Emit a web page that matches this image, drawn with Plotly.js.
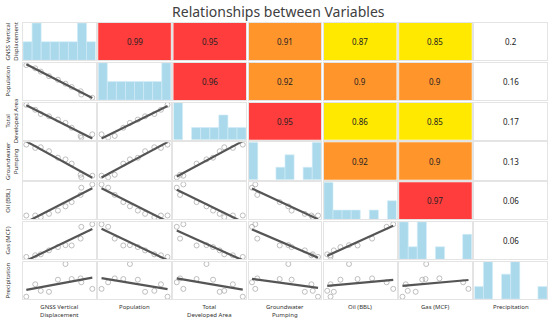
<!DOCTYPE html>
<html>
<head>
<meta charset="utf-8">
<script src="https://cdn.plot.ly/plotly-3.0.1.min.js"></script>
<style>html,body{margin:0;padding:0;background:#fff;}#chart{width:550px;height:320px;}</style>
</head>
<body>
<div id="chart"></div>
<script>
const varLabels = ['GNSS Vertical<br>Displacement', 'Population', 'Total<br>Developed Area',
                   'Groundwater<br>Pumping', 'Oil (BBL)', 'Gas (MCF)', 'Precipitation'];
const gnss        = [0.02, 0.15, 0.23, 0.35, 0.48, 0.59, 0.68, 0.81, 0.82, 0.98];
const population  = [1.00, 0.90, 0.80, 0.66, 0.55, 0.43, 0.33, 0.20, 0.10, 0.00];
const developed   = [1.00, 0.85, 0.72, 0.65, 0.55, 0.45, 0.30, 0.05, 0.00, 0.10];
const groundwater = [1.00, 0.90, 0.92, 0.80, 0.60, 0.55, 0.42, 0.08, 0.00, 0.05];
const oil         = [0.05, 0.05, 0.00, 0.10, 0.20, 0.33, 0.46, 0.68, 0.90, 1.00];
const gas         = [0.00, 0.05, 0.08, 0.20, 0.30, 0.36, 0.35, 0.56, 0.92, 1.00];
const precip      = [0.00, 0.38, 0.18, 0.15, 0.52, 1.00, 0.54, 0.56, 0.44, 0.24];
// displayed correlation coefficients (upper triangle, row by row)
const corrRow1 = [0.99, 0.95, 0.91, 0.87, 0.85, 0.2];
const corrRow2 = [0.96, 0.92, 0.9, 0.9, 0.16];
const corrRow3 = [0.95, 0.86, 0.85, 0.17];
const corrRow4 = [0.92, 0.9, 0.13];
const corrRow5 = [0.97, 0.06];
const corrRow6 = [0.06];

const series = [gnss, population, developed, groundwater, oil, gas, precip];
const corrRows = [corrRow1, corrRow2, corrRow3, corrRow4, corrRow5, corrRow6];
const n = series.length;

const RED = '#ff3d3d', ORANGE = '#ff952b', YELLOW = '#ffe900';
function corrColor(r) {
  if (r >= 0.95) return RED;
  if (r >= 0.88) return ORANGE;
  if (r >= 0.85) return YELLOW;
  return '#ffffff';
}

const gapX = 0.005, gapY = 0.009;
const cellW = (1 - (n - 1) * gapX) / n;
const cellH = (1 - (n - 1) * gapY) / n;
const ax = k => (k === 1 ? '' : String(k));

const traces = [];
const layout = {
  width: 550, height: 320,
  margin: {l: 23, r: 3, t: 23, b: 21},
  paper_bgcolor: '#fff', plot_bgcolor: '#fff',
  showlegend: false,
  font: {family: 'Noto Sans, Open Sans, sans-serif', color: '#333'},
  title: {text: 'Relationships between Variables', xref: 'container', x: 0.506, xanchor: 'center',
          yref: 'container', y: 0.962, yanchor: 'middle',
          font: {size: 14, color: '#404040', family: 'Noto Sans, Open Sans, sans-serif'}},
  shapes: [], annotations: []
};

const mn = a => Math.min.apply(null, a), mx = a => Math.max.apply(null, a);

for (let i = 0; i < n; i++) {
  for (let j = 0; j < n; j++) {
    const k = i * n + j + 1;
    const x0 = j * (cellW + gapX);
    const yTop = 1 - i * (cellH + gapY);
    const xa = {domain: [x0, x0 + cellW], anchor: 'y' + ax(k), showticklabels: false, ticks: '',
                showgrid: false, zeroline: false, showline: true, mirror: true,
                linecolor: '#e4e4e4', linewidth: 1, fixedrange: true};
    const ya = {domain: [yTop - cellH, yTop], anchor: 'x' + ax(k), showticklabels: false, ticks: '',
                showgrid: false, zeroline: false, showline: true, mirror: true,
                linecolor: '#e4e4e4', linewidth: 1, fixedrange: true};
    const xs = series[j], ys = series[i];
    if (i === j) {
      const lo = mn(xs), hi = mx(xs);
      const size = (hi - lo) / 8 * 1.00001;
      traces.push({type: 'histogram', x: xs, xaxis: 'x' + ax(k), yaxis: 'y' + ax(k),
        xbins: {start: lo - 1e-9, end: hi + size * 0.01, size: size},
        marker: {color: '#abd9ec', line: {color: '#d2ecf6', width: 0.6}}, hoverinfo: 'skip'});
      // max bin count for the y range
      const counts = new Array(9).fill(0);
      xs.forEach(v => { counts[Math.min(7, Math.floor((v - lo + 1e-9) / size))]++; });
      xa.range = [lo, hi];
      ya.range = [0, mx(counts)];
    } else if (i > j) {
      const lox = mn(xs), hix = mx(xs), loy = mn(ys), hiy = mx(ys);
      const px = (hix - lox) * 0.05, py = (hiy - loy) * 0.07;
      xa.range = [lox - px, hix + px];
      ya.range = [loy - py, hiy + py];
      traces.push({type: 'scatter', mode: 'markers', x: xs, y: ys, xaxis: 'x' + ax(k), yaxis: 'y' + ax(k),
        marker: {symbol: 'circle-open', size: 5, color: '#adadad', line: {width: 0.8}}, hoverinfo: 'skip'});
      // least squares line
      const m = xs.length;
      const mxv = xs.reduce((a, b) => a + b, 0) / m, myv = ys.reduce((a, b) => a + b, 0) / m;
      let sxy = 0, sxx = 0;
      for (let t = 0; t < m; t++) { sxy += (xs[t] - mxv) * (ys[t] - myv); sxx += (xs[t] - mxv) ** 2; }
      const b = sxy / sxx, a0 = myv - b * mxv;
      traces.push({type: 'scatter', mode: 'lines', x: [lox, hix], y: [a0 + b * lox, a0 + b * hix],
        xaxis: 'x' + ax(k), yaxis: 'y' + ax(k), line: {color: '#555555', width: 2.2}, hoverinfo: 'skip'});
    } else {
      const r = corrRows[i][j - i - 1];
      xa.range = [0, 1]; ya.range = [0, 1];
      traces.push({type: 'scatter', mode: 'markers', x: [], y: [], xaxis: 'x' + ax(k), yaxis: 'y' + ax(k), hoverinfo: 'skip'});
      layout.shapes.push({type: 'rect', xref: 'x' + ax(k) + ' domain', yref: 'y' + ax(k) + ' domain',
        x0: 0, x1: 1, y0: 0, y1: 1, fillcolor: corrColor(r), line: {width: 0}, layer: 'below'});
      layout.annotations.push({xref: 'x' + ax(k) + ' domain', yref: 'y' + ax(k) + ' domain', x: 0.5, y: 0.5,
        text: String(r), showarrow: false, font: {size: 8, color: '#222'}});
    }
    layout['xaxis' + ax(k)] = xa;
    layout['yaxis' + ax(k)] = ya;
  }
}
// row and column labels
for (let t = 0; t < n; t++) {
  const kb = (n - 1) * n + t + 1;
  layout.annotations.push({xref: 'x' + ax(kb) + ' domain', yref: 'paper', x: 0.5, y: -0.008,
    xanchor: 'center', yanchor: 'top', text: varLabels[t], showarrow: false,
    font: {size: 6, color: '#333'}});
  const kl = t * n + 1;
  layout.annotations.push({xref: 'paper', yref: 'y' + ax(kl) + ' domain', x: -0.04, y: 0.5,
    xanchor: 'left', yanchor: 'middle', textangle: -90, text: varLabels[t], showarrow: false,
    font: {size: 6, color: '#333'}});
}

Plotly.newPlot('chart', traces, layout, {displayModeBar: false, staticPlot: true});
</script>
</body>
</html>
